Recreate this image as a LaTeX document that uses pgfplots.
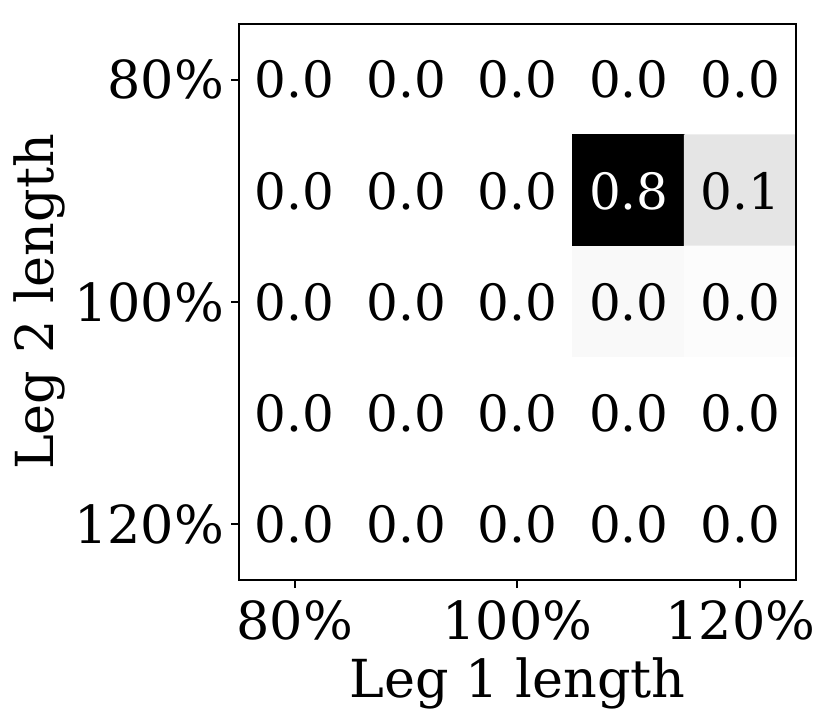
\documentclass[border=0pt]{standalone}
\usepackage{pgfplots}
\pgfplotsset{compat=1.18}
\usepackage{fontspec}
\setmainfont{DejaVu Serif}
\newcommand{\cellfont}{\fontsize{12.5}{14}\selectfont}
\newcommand{\tickfont}{\fontsize{13.1}{15}\selectfont}

\begin{document}
\begin{tikzpicture}
\begin{axis}[
    scale only axis,
    width=139.25pt, height=139pt,
    xmin=-0.5, xmax=4.5, ymin=-0.5, ymax=4.5,
    y dir=reverse,
    enlargelimits=false,
    axis on top,
    axis line style={line width=0.5pt},
    xtick={0,2,4}, xticklabels={80\%,100\%,120\%},
    ytick={0,2,4}, yticklabels={80\%,100\%,120\%},
    tick align=outside, major tick length=2pt,
    tick style={line width=0.5pt, black},
    xtick pos=bottom, ytick pos=left,
    tick label style={font=\tickfont},
    xticklabel style={yshift=0.5pt},
    yticklabel style={xshift=1.75pt},
    label style={font=\tickfont},
    xlabel={Leg 1 length}, ylabel={Leg 2 length},
    xlabel style={at={(axis description cs:0.5,0)}, anchor=base, yshift=-29.25pt},
    ylabel style={at={(axis description cs:0,0.5)}, anchor=center, yshift=50pt},
    colormap={bw}{rgb255=(255,255,255) rgb255=(0,0,0)},
    point meta min=0, point meta max=0.8,
]
\addplot[matrix plot*, mesh/cols=5, point meta=explicit, draw=none] table[meta=c] {
x y c
0 0 0
1 0 0
2 0 0
3 0 0
4 0 0
0 1 0
1 1 0
2 1 0
3 1 0.8
4 1 0.08
0 2 0
1 2 0
2 2 0
3 2 0.02
4 2 0.008
0 3 0
1 3 0
2 3 0
3 3 0
4 3 0
0 4 0
1 4 0
2 4 0
3 4 0
4 4 0
};
% cell labels, dark text
\addplot[draw=none, mark=none, nodes near coords, point meta=explicit symbolic,
    nodes near coords style={anchor=center, font=\cellfont, text=black}]
    table[meta=t] {
x y t
0 0 0.0
1 0 0.0
2 0 0.0
3 0 0.0
4 0 0.0
0 1 0.0
1 1 0.0
2 1 0.0
4 1 0.1
0 2 0.0
1 2 0.0
2 2 0.0
3 2 0.0
4 2 0.0
0 3 0.0
1 3 0.0
2 3 0.0
3 3 0.0
4 3 0.0
0 4 0.0
1 4 0.0
2 4 0.0
3 4 0.0
4 4 0.0
};
% cell label on the dark cell
\addplot[draw=none, mark=none, nodes near coords, point meta=explicit symbolic,
    nodes near coords style={anchor=center, font=\cellfont, text=white}]
    table[meta=t] {
x y t
3 1 0.8
};
\end{axis}
\pgfresetboundingbox
\path (current axis.south west) ++(-59.75pt,-36.75pt) coordinate (bbA);
\path (current axis.north east) ++(8.75pt,6pt) coordinate (bbB);
\useasboundingbox (bbA) rectangle (bbB);
\end{tikzpicture}
\end{document}
